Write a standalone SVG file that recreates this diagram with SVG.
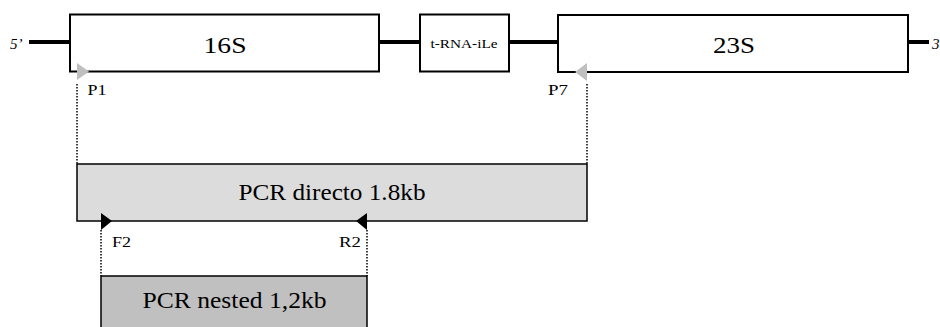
<svg xmlns="http://www.w3.org/2000/svg" width="940" height="327" viewBox="0 0 940 327">
<style>
.gene{fill:#fff;stroke:#000;stroke-width:2}
.bb{stroke:#000;stroke-width:4}
.dot{stroke:#000;stroke-width:1.5;stroke-dasharray:1.5,1.5;fill:none}
.t{font-family:'Liberation Serif','Times New Roman',serif;fill:#000}
.big{font-size:23px;text-anchor:middle}
.lbl{font-size:15px}
</style>
<rect width="940" height="327" fill="#fff"/>
<g id="connectors">
<line class="bb" x1="29" y1="42" x2="70" y2="42"/>
<line class="bb" x1="379" y1="42" x2="420" y2="42"/>
<line class="bb" x1="509" y1="42" x2="558" y2="42"/>
<line class="bb" x1="908" y1="42" x2="929" y2="42"/>
<line class="dot" x1="77" y1="84" x2="77" y2="164"/>
<line class="dot" x1="587" y1="84" x2="587" y2="164"/>
<line class="dot" x1="101" y1="230" x2="101" y2="276"/>
<line class="dot" x1="367" y1="230" x2="367" y2="276"/>
</g>
<g id="end5"><text class="t lbl" x="10" y="49" font-style="italic">5’</text></g>
<g id="end3"><text class="t lbl" x="932" y="49" font-style="italic">3’</text></g>
<g id="n16S">
<rect class="gene" x="70" y="14.5" width="309" height="57"/>
<text class="t big" x="225" y="53" textLength="43" lengthAdjust="spacingAndGlyphs">16S</text>
</g>
<g id="ntRNA">
<rect class="gene" x="420" y="14.5" width="89" height="57"/>
<text class="t" x="464" y="48" font-size="12" text-anchor="middle" textLength="67" lengthAdjust="spacingAndGlyphs">t-RNA-iLe</text>
</g>
<g id="n23S">
<rect class="gene" x="558" y="15" width="350" height="57"/>
<text class="t big" x="734" y="53" textLength="42" lengthAdjust="spacingAndGlyphs">23S</text>
</g>
<g id="P1">
<polygon points="77,63 89,71.5 77,80" fill="#bfbfbf"/>
<text class="t lbl" x="87.5" y="95" textLength="19" lengthAdjust="spacingAndGlyphs">P1</text>
</g>
<g id="P7">
<polygon points="587,63 575,72 587,81" fill="#bfbfbf"/>
<text class="t lbl" x="548" y="95" textLength="20" lengthAdjust="spacingAndGlyphs">P7</text>
</g>
<g id="pcrDirecto">
<rect x="77" y="164" width="510" height="57" fill="#dcdcdc" stroke="#000" stroke-width="1.5"/>
<text class="t big" x="332" y="200" textLength="187" lengthAdjust="spacingAndGlyphs">PCR directo 1.8kb</text>
</g>
<g id="F2">
<polygon points="101,213 112,221 101,230" fill="#000"/>
<text class="t lbl" x="112" y="247" textLength="19" lengthAdjust="spacingAndGlyphs">F2</text>
</g>
<g id="R2">
<polygon points="367,213 356,221 367,230" fill="#000"/>
<text class="t lbl" x="339" y="247" textLength="22" lengthAdjust="spacingAndGlyphs">R2</text>
</g>
<g id="pcrNested">
<rect x="101" y="276" width="266" height="60" fill="#c0c0c0" stroke="#000" stroke-width="1.5"/>
<text class="t big" x="234.5" y="308" textLength="184" lengthAdjust="spacingAndGlyphs">PCR nested 1,2kb</text>
</g>
</svg>
